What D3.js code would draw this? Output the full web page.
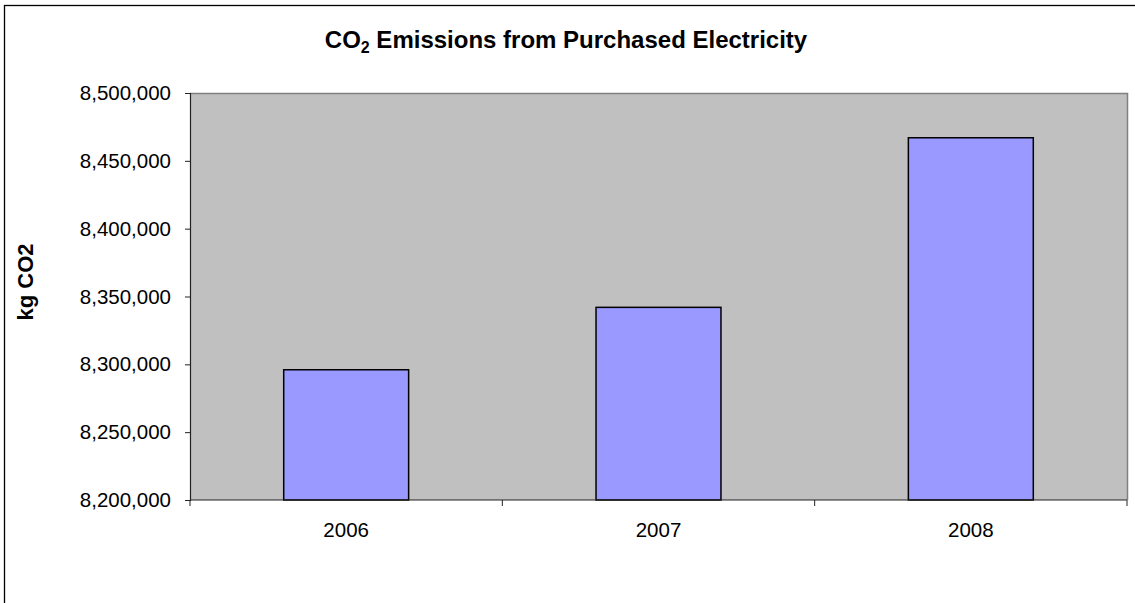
<!DOCTYPE html>
<html>
<head>
<meta charset="utf-8">
<script src="https://cdn.jsdelivr.net/npm/d3@7"></script>
<style>
  html, body { margin: 0; padding: 0; background: #fff; }
  svg { display: block; }
  text { font-family: Arial, "Liberation Sans", sans-serif; fill: #000; }
</style>
</head>
<body>
<svg id="chart" width="1135" height="603"></svg>
<script>
// Annual CO2 from purchased electricity (kg)
const years = ["2006", "2007", "2008"];
const emissions = [8296000, 8342000, 8467000];
const yTicks = [8200000, 8250000, 8300000, 8350000, 8400000, 8450000, 8500000];
const yDomain = [8200000, 8500000];

const svg = d3.select("#chart");
const W = 1135, H = 603;
const plot = { left: 190, top: 93, right: 1127, bottom: 500 };

// chart frame (runs off the right/bottom edges)
svg.append("rect")
  .attr("x", 4.5).attr("y", 5.5)
  .attr("width", W + 20).attr("height", H + 20)
  .attr("fill", "#fff").attr("stroke", "#000").attr("stroke-width", 1.3);

const x = d3.scaleBand().domain(years)
  .range([plot.left, plot.right]).paddingInner(0).paddingOuter(0);
const y = d3.scaleLinear().domain(yDomain).range([plot.bottom, plot.top]);

// plot background
svg.append("rect")
  .attr("x", plot.left).attr("y", plot.top)
  .attr("width", plot.right - plot.left).attr("height", plot.bottom - plot.top)
  .attr("fill", "#c0c0c0");

// grey top/right edges of the plot area
svg.append("path")
  .attr("d", `M${plot.left},${plot.top + 0.5}H${plot.right + 0.5}V${plot.bottom}`)
  .attr("fill", "none").attr("stroke", "#808080").attr("stroke-width", 1.5);

// bars: width = band / 2.5 (gap 150%)
const bw = x.bandwidth() / 2.5;
svg.append("g").selectAll("rect").data(years).join("rect")
  .attr("x", (d) => x(d) + (x.bandwidth() - bw) / 2)
  .attr("y", (d, i) => y(emissions[i]))
  .attr("width", bw)
  .attr("height", (d, i) => plot.bottom - y(emissions[i]))
  .attr("fill", "#9999ff")
  .attr("stroke", "#000").attr("stroke-width", 1.5);

// y axis
const yAxis = d3.axisLeft(y).tickValues(yTicks)
  .tickFormat(d3.format(",")).tickSize(5).tickPadding(14);
const gy = svg.append("g").attr("transform", `translate(${plot.left},0)`).call(yAxis);
gy.select(".domain").attr("stroke", "#222").attr("stroke-width", 1.2);
gy.selectAll(".tick line").attr("stroke", "#222");
gy.selectAll(".tick text").attr("font-size", 20.5).attr("fill", "#000");

// x axis with ticks on category boundaries
const bounds = years.map((d) => x(d)).concat([plot.right]);
const gx = svg.append("g");
gx.append("line")
  .attr("x1", plot.left).attr("x2", plot.right)
  .attr("y1", plot.bottom).attr("y2", plot.bottom)
  .attr("stroke", "#222").attr("stroke-width", 1.2);
gx.selectAll("line.tk").data(bounds).join("line")
  .attr("class", "tk")
  .attr("x1", (d) => d).attr("x2", (d) => d)
  .attr("y1", plot.bottom).attr("y2", plot.bottom + 6)
  .attr("stroke", "#222");
gx.selectAll("text").data(years).join("text")
  .attr("x", (d) => x(d) + x.bandwidth() / 2)
  .attr("y", 537)
  .attr("text-anchor", "middle")
  .attr("font-size", 20.5)
  .text((d) => d);

// title with subscript 2
const title = svg.append("text")
  .attr("x", 566).attr("y", 48)
  .attr("text-anchor", "middle")
  .attr("font-size", 24).attr("font-weight", "bold");
title.append("tspan").text("CO");
title.append("tspan").attr("font-size", 16).attr("dy", 5).text("2");
title.append("tspan").attr("dy", -5).text(" Emissions from Purchased Electricity");

// y axis title
svg.append("text")
  .attr("transform", "translate(33,282) rotate(-90)")
  .attr("text-anchor", "middle")
  .attr("font-size", 22).attr("font-weight", "bold")
  .text("kg CO2");
</script>
</body>
</html>
